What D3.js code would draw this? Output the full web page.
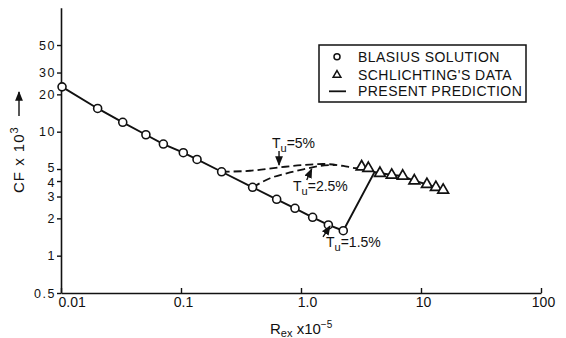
<!DOCTYPE html>
<html>
<head>
<meta charset="utf-8">
<script src="https://cdn.jsdelivr.net/npm/d3@7"></script>
<style>
  html, body { margin: 0; padding: 0; background: #fff; }
  svg { display: block; }
  text { font-family: "Liberation Sans", Arial, sans-serif; fill: #111; }
</style>
</head>
<body>
<svg id="chart" width="566" height="338"></svg>
<script>
// ---------- data ----------
const xTickVals = [0.01, 0.1, 1, 10, 100];
const xTickLabels = ["0.01", "0.1", "1.0", "10", "100"];
const yTickVals = [0.5, 1, 2, 3, 4, 5, 10, 20, 30, 50];
const yTickLabels = ["0.5", "1", "2", "3", "4", "5", "10", "20", "30", "50"];

// Blasius solution (circles)
const blasiusRe = [0.0102, 0.0202, 0.0327, 0.051, 0.0713, 0.1045, 0.136, 0.218, 0.395, 0.627, 0.891, 1.25, 1.69, 2.25];
const blasiusCf = [23.0, 15.4, 11.9, 9.45, 7.95, 6.77, 5.97, 4.75, 3.56, 2.85, 2.41, 2.04, 1.77, 1.59];

// Schlichting's data (triangles)
const schlRe = [3.2, 3.64, 4.55, 5.7, 7.04, 8.8, 11.2, 13.3, 15.3];
const schlCf = [5.22, 5.07, 4.62, 4.47, 4.39, 4.02, 3.76, 3.56, 3.38];

// Present prediction, Tu = 1.5 % (solid)
const pred15Re = [0.0102, 0.0202, 0.0327, 0.051, 0.0713, 0.1045, 0.136, 0.218, 0.395, 0.627, 0.891, 1.25, 1.69, 2.25, 4.1, 5.7, 7.04, 8.8, 11.2, 13.3, 15.3];
const pred15Cf = [23.0, 15.4, 11.9, 9.45, 7.95, 6.77, 5.97, 4.75, 3.56, 2.85, 2.41, 2.04, 1.77, 1.59, 4.72, 4.47, 4.39, 4.02, 3.76, 3.56, 3.38];

// Present prediction, Tu = 5 % (dashed)
const pred5Re = [0.218, 0.376, 0.668, 1.045, 1.53, 2.25, 2.91, 3.15];
const pred5Cf = [4.75, 4.84, 5.16, 5.39, 5.49, 5.29, 5.07, 5.05];

// Present prediction, Tu = 2.5 % (dashed)
const pred25Re = [0.395, 0.552, 0.76, 1.045, 1.44, 1.95];
const pred25Cf = [3.56, 4.21, 4.62, 4.97, 5.29, 5.40];

// Annotations (data coordinates)
const annLabels = ["=5%", "=2.5%", "=1.5%"];
const annRe = [0.573, 0.858, 1.616];
const annCf = [7.32, 3.32, 1.175];
const annFromRe = [0.656, 1.116, 1.526];
const annFromCf = [6.99, 4.08, 1.415];
const annToRe = [0.656, 1.228, 1.744];
const annToCf = [5.39, 5.0, 1.735];

// Legend
const legendLabels = ["BLASIUS SOLUTION", "SCHLICHTING'S DATA", "PRESENT PREDICTION"];

// ---------- layout ----------
const svg = d3.select("#chart");
const ink = "#111";

const x = d3.scaleLog().domain([0.01, 100]).range([61, 541]);
const y = d3.scaleLog().domain([0.5, 100]).range([293, 7.7]);

const defs = svg.append("defs");
defs.append("marker").attr("id", "ah").attr("viewBox", "0 0 10 10")
  .attr("refX", 9).attr("refY", 5).attr("markerWidth", 7).attr("markerHeight", 7)
  .attr("orient", "auto-start-reverse")
  .append("path").attr("d", "M0,1 L10,5 L0,9 Z").attr("fill", ink);

// ---------- axes ----------
const xAxis = d3.axisBottom(x).tickValues(xTickVals)
  .tickFormat((d, i) => xTickLabels[i]).tickSizeInner(-5).tickSizeOuter(0).tickPadding(4);
const gx = svg.append("g").attr("transform", `translate(0,${y(0.5)})`).call(xAxis);
gx.select(".domain").attr("stroke", ink).attr("stroke-width", 1.6);
gx.selectAll(".tick line").attr("stroke", ink).attr("stroke-width", 1.4);
gx.selectAll(".tick text").style("font-size", "14px").attr("fill", ink)
  .style("font-family", "'Liberation Sans', Arial, sans-serif")
  .attr("text-anchor", (d, i) => i === 0 ? "start" : "middle")
  .attr("dx", (d, i) => i === 0 ? -3 : (i === 2 ? 6 : 2));

const yAxis = d3.axisLeft(y).tickValues(yTickVals)
  .tickFormat((d, i) => yTickLabels[i]).tickSizeInner(4).tickSizeOuter(0).tickPadding(1);
const gy = svg.append("g").attr("transform", `translate(${x(0.01)},0)`).call(yAxis);
gy.select(".domain").attr("stroke", ink).attr("stroke-width", 1.6);
gy.selectAll(".tick line").attr("stroke", ink).attr("stroke-width", 1.4);
gy.selectAll(".tick text").style("font-size", "12.5px").attr("fill", ink)
  .style("font-family", "'Liberation Sans', Arial, sans-serif")
  .style("letter-spacing", "1.5px")
  .attr("dy", d => d === 5 ? "0.2em" : (d === 4 ? "0.4em" : "0.32em"));

// ---------- lines ----------
const lineLin = d3.line().x(d => x(d[0])).y(d => y(d[1]));
const lineSmooth = d3.line().x(d => x(d[0])).y(d => y(d[1])).curve(d3.curveMonotoneX);

svg.append("path").datum(pred15Re.map((r, i) => [r, pred15Cf[i]]))
  .attr("d", lineLin).attr("fill", "none").attr("stroke", ink).attr("stroke-width", 1.9);

svg.append("path").datum(pred5Re.map((r, i) => [r, pred5Cf[i]]))
  .attr("d", lineSmooth).attr("fill", "none").attr("stroke", ink)
  .attr("stroke-width", 1.8).attr("stroke-dasharray", "8,4");

svg.append("path").datum(pred25Re.map((r, i) => [r, pred25Cf[i]]))
  .attr("d", lineSmooth).attr("fill", "none").attr("stroke", ink)
  .attr("stroke-width", 1.8).attr("stroke-dasharray", "8,4");

// ---------- markers ----------
svg.append("g").selectAll("circle").data(blasiusRe.map((r, i) => [r, blasiusCf[i]]))
  .join("circle").attr("cx", d => x(d[0])).attr("cy", d => y(d[1])).attr("r", 4)
  .attr("fill", "#fff").attr("stroke", ink).attr("stroke-width", 1.6);

const tri = d3.symbol().type(d3.symbolTriangle).size(50);
svg.append("g").selectAll("path").data(schlRe.map((r, i) => [r, schlCf[i]]))
  .join("path").attr("transform", d => `translate(${x(d[0])},${y(d[1])})`)
  .attr("d", tri).attr("fill", "#fff").attr("stroke", ink).attr("stroke-width", 1.7);

// ---------- annotations ----------
annLabels.forEach((lab, i) => {
  const t = svg.append("text").attr("x", x(annRe[i])).attr("y", y(annCf[i]))
    .style("font-size", "14px");
  t.append("tspan").text("T");
  t.append("tspan").attr("dy", 4).style("font-size", "11px").text("u");
  t.append("tspan").attr("dy", -4).text(lab);
  svg.append("line")
    .attr("x1", x(annFromRe[i])).attr("y1", y(annFromCf[i]))
    .attr("x2", x(annToRe[i])).attr("y2", y(annToCf[i]))
    .attr("stroke", ink).attr("stroke-width", 1.4).attr("marker-end", "url(#ah)");
});

// ---------- axis titles ----------
const yt = svg.append("text").attr("transform", "translate(24,193) rotate(-90)")
  .style("font-size", "15px").style("letter-spacing", "1px");
yt.append("tspan").text("CF x 10");
yt.append("tspan").attr("dy", -6).style("font-size", "11px").text("3");
svg.append("line").attr("x1", 19).attr("y1", 116).attr("x2", 19).attr("y2", 92)
  .attr("stroke", ink).attr("stroke-width", 1.4).attr("marker-end", "url(#ah)");

const xt = svg.append("text").attr("x", 270).attr("y", 334).style("font-size", "15px");
xt.append("tspan").text("R");
xt.append("tspan").attr("dy", 3).style("font-size", "11px").text("ex");
xt.append("tspan").attr("dy", -3).text(" x10");
xt.append("tspan").attr("dy", -6).style("font-size", "10px").text("−5");

// ---------- legend ----------
const lg = svg.append("g");
lg.append("rect").attr("x", 319).attr("y", 45).attr("width", 207).attr("height", 57)
  .attr("fill", "#fff").attr("stroke", ink).attr("stroke-width", 1.5);
const rowY = [56.7, 75, 91.3];
lg.append("circle").attr("cx", 337).attr("cy", rowY[0]).attr("r", 3)
  .attr("fill", "#fff").attr("stroke", ink).attr("stroke-width", 1.5);
lg.append("path").attr("transform", `translate(337,${rowY[1]})`)
  .attr("d", d3.symbol().type(d3.symbolTriangle).size(26))
  .attr("fill", "#fff").attr("stroke", ink).attr("stroke-width", 1.5);
lg.append("line").attr("x1", 329).attr("x2", 346).attr("y1", rowY[2]).attr("y2", rowY[2])
  .attr("stroke", ink).attr("stroke-width", 1.8);
legendLabels.forEach((lab, i) => {
  lg.append("text").attr("x", 358).attr("y", rowY[i] + 5)
    .style("font-size", "14px").style("letter-spacing", "0.45px").text(lab);
});
</script>
</body>
</html>
